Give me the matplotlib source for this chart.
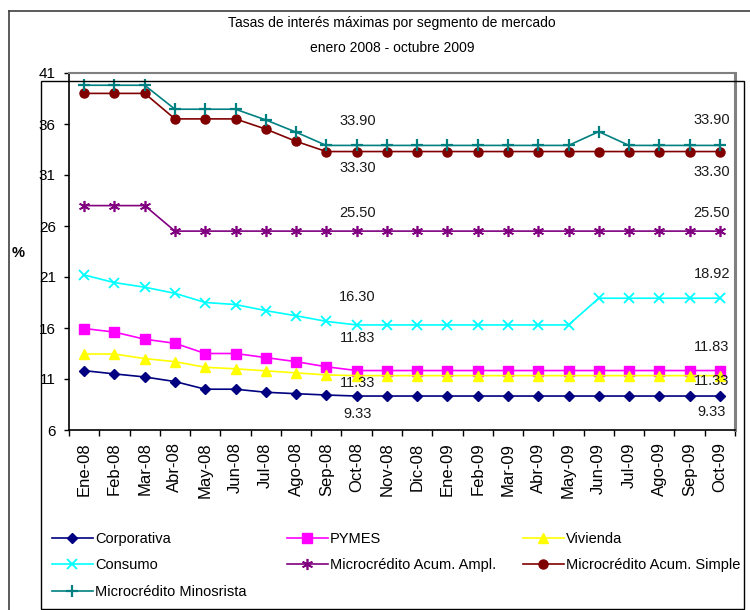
import numpy as np
import matplotlib
matplotlib.use('Agg')
import matplotlib.pyplot as plt
from matplotlib.lines import Line2D
from matplotlib.patches import Rectangle

plt.rcParams['font.family'] = ['Liberation Sans', 'DejaVu Sans']

# Data
months = ['Ene-08', 'Feb-08', 'Mar-08', 'Abr-08', 'May-08', 'Jun-08', 'Jul-08',
          'Ago-08', 'Sep-08', 'Oct-08', 'Nov-08', 'Dic-08', 'Ene-09', 'Feb-09',
          'Mar-09', 'Abr-09', 'May-09', 'Jun-09', 'Jul-09', 'Ago-09', 'Sep-09', 'Oct-09']

corporativa = [11.82, 11.5, 11.2, 10.75, 10.0, 10.0, 9.7, 9.56, 9.43] + [9.33] * 13
pymes = [15.95, 15.6, 14.9, 14.5, 13.5, 13.5, 13.1, 12.7, 12.2] + [11.83] * 13
vivienda = [13.45, 13.45, 13.0, 12.7, 12.15, 12.0, 11.8, 11.6, 11.4] + [11.33] * 13
consumo = [21.2, 20.45, 20.0, 19.4, 18.5, 18.3, 17.7, 17.2, 16.65] + [16.30] * 8 + [18.92] * 5
acum_ampl = [28.0] * 3 + [25.50] * 19
acum_simple = [39.0] * 3 + [36.5] * 3 + [35.5, 34.3] + [33.30] * 14
minorista = [39.8] * 3 + [37.45] * 3 + [36.4, 35.2] + [33.90] * 9 + [35.25] + [33.90] * 4

# (name, values, colour, marker, size, edge width, label dy at Oct-08, label dy at Oct-09)
series = [
    ('Corporativa', corporativa, '#000080', 'D', 5, 1.0, -18, -16),
    ('PYMES', pymes, '#FF00FF', 's', 6.5, 1.0, 33, 24),
    ('Vivienda', vivienda, '#FFFF00', '^', 7, 1.0, -7, -5),
    ('Consumo', consumo, '#00FFFF', 'x', 7, 1.3, 28, 24),
    ('Microcrédito Acum. Ampl.', acum_ampl, '#800080', (6, 2, 0), 8, 1.2, 18, 18),
    ('Microcrédito Acum. Simple', acum_simple, '#800000', 'o', 6.5, 1.0, -16, -20),
    ('Microcrédito Minosrista', minorista, '#008080', '+', 9, 1.6, 24, 25),
]

fig = plt.figure(figsize=(7.5, 6.1), dpi=100)
ax = fig.add_axes([69 / 750, 1 - 430 / 610, 666 / 750, 357 / 610])

x = np.arange(len(months))
handles = {}
for name, vals, color, marker, ms, mew, dy1, dy2 in series:
    line, = ax.plot(x, vals, color=color, lw=1.2, marker=marker, ms=ms,
                    mew=mew, mec=color, mfc=color, label=name, clip_on=False)
    handles[name] = line
    ax.annotate(f'{vals[9]:.2f}', (x[9], vals[9]), xytext=(1, dy1),
                textcoords='offset pixels', ha='center', va='center',
                fontsize=10.5, color='#1a1a1a')
    ax.annotate(f'{vals[-1]:.2f}', (x[-1], vals[-1]), xytext=(-8, dy2),
                textcoords='offset pixels', ha='center', va='center',
                fontsize=10.5, color='#1a1a1a')

ax.set_xlim(-0.5, len(months) - 0.5)
ax.set_ylim(6, 41)
ax.set_yticks(np.arange(6, 42, 5))
ax.set_xticks(x)
ax.set_xticklabels(months, rotation=90, fontsize=12)
ax.set_xticks(np.arange(-0.5, len(months)), minor=True)
ax.tick_params(axis='x', which='major', length=0, pad=9)
ax.tick_params(axis='x', which='minor', length=4.5, width=1, direction='out')
ax.tick_params(axis='y', length=3.5, width=1, direction='out', labelsize=11, pad=6)

for s in ['left', 'bottom']:
    ax.spines[s].set_color('black')
    ax.spines[s].set_linewidth(1.2)
ax.spines['top'].set_color('#808080')
ax.spines['top'].set_linewidth(1.5)
ax.spines['right'].set_color('#808080')
ax.spines['right'].set_linewidth(2.2)

# title and y label
fig.text(392 / 750, 1 - 23 / 610, 'Tasas de interés máximas por segmento de mercado',
         ha='center', va='center', fontsize=10)
fig.text(392 / 750, 1 - 48 / 610, 'enero 2008 - octubre 2009',
         ha='center', va='center', fontsize=10)
fig.text(18 / 750, 1 - 253 / 610, '%', ha='center', va='center',
         fontsize=10.5, fontweight='bold')

# outer frame (left and top edges visible)
fig.add_artist(Line2D([9 / 750, 9 / 750], [0, 1 - 11 / 610], transform=fig.transFigure,
                      color='#404040', lw=1.2))
fig.add_artist(Line2D([9 / 750, 1], [1 - 11 / 610, 1 - 11 / 610], transform=fig.transFigure,
                      color='#404040', lw=1.2))

# legend: frame plus three columns filled row by row
fig.add_artist(Rectangle((41 / 750, 1 / 610), 703 / 750, 528 / 610, transform=fig.transFigure,
                         fill=False, edgecolor='black', lw=1.0))
columns = [
    (52, ['Corporativa', 'Consumo', 'Microcrédito Minosrista']),
    (287, ['PYMES', 'Microcrédito Acum. Ampl.']),
    (523, ['Vivienda', 'Microcrédito Acum. Simple']),
]
for xpix, names in columns:
    fig.legend([handles[n] for n in names], names, loc='upper left',
               bbox_to_anchor=(xpix / 750, 1 - 532 / 610), borderaxespad=0,
               borderpad=0, frameon=False, handlelength=2.8, handletextpad=0.15,
               labelspacing=0.85, fontsize=10.5)

fig.savefig('out.png', dpi=100)
